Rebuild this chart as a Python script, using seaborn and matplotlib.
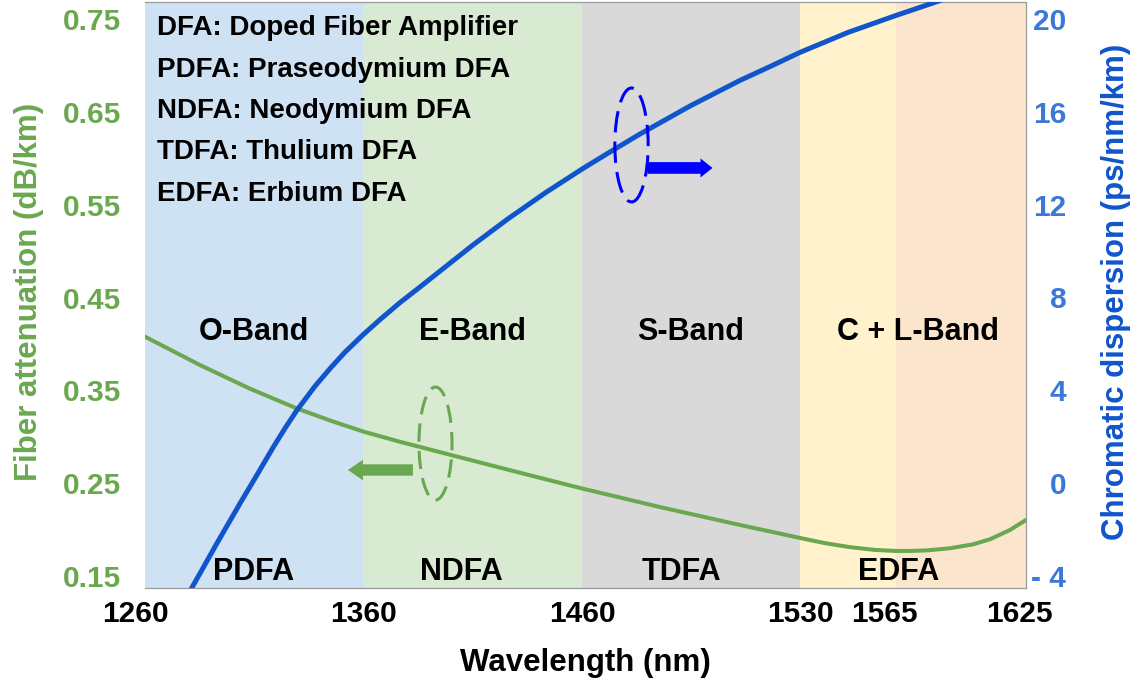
import numpy as np
import matplotlib
matplotlib.use("Agg")
import matplotlib.pyplot as plt
import seaborn as sns
from matplotlib.patches import Ellipse
from matplotlib.transforms import ScaledTranslation

# ---------------------------------------------------------------- data
tick_wavelengths = [1260, 1360, 1460, 1530, 1565, 1625]
tick_labels = ["1260", "1360", "1460", "1530", "1565", "1625"]

band_names = ["O-Band", "E-Band", "S-Band", "C + L-Band"]
band_label_wl = [1310, 1410, 1495, 1575]
amp_names = ["PDFA", "NDFA", "TDFA", "EDFA"]
amp_label_wl = [1310, 1405, 1492, 1566]

shade_starts = [1260, 1360, 1460, 1530, 1565]
shade_ends = [1360, 1460, 1530, 1565, 1625]

glossary = [
    "DFA: Doped Fiber Amplifier",
    "PDFA: Praseodymium DFA",
    "NDFA: Neodymium DFA",
    "TDFA: Thulium DFA",
    "EDFA: Erbium DFA",
]

# fiber attenuation (dB/km)
att_wl = [1260, 1285.2, 1308.2, 1329.7, 1344.9, 1360, 1376.9, 1395.2,
          1427.1, 1460, 1485.4, 1510.7, 1520.4, 1530, 1539.1, 1548.2,
          1557.3, 1565, 1571.5, 1579.3, 1589.9, 1600.5, 1608.4, 1617.6, 1625]
att_db = [0.4078, 0.3773, 0.3517, 0.3305, 0.3175, 0.3057, 0.2946, 0.2834,
          0.2640, 0.2443, 0.2240, 0.2050, 0.1980, 0.1910, 0.1854, 0.1811,
          0.1781, 0.1770, 0.1770, 0.1776, 0.1799, 0.1841, 0.1896, 0.1996, 0.2104]

# chromatic dispersion (ps/nm/km)
disp_wl = [1280, 1282.2, 1293.0, 1303.6, 1311.4, 1318.9, 1324.2, 1329.6,
           1338.0, 1344.9, 1351.7, 1360.1, 1367.8, 1376.9, 1386.0, 1395.2,
           1410.2, 1425.8, 1443.1, 1460.1, 1469.0, 1478.6, 1494.7, 1510.7,
           1520.4, 1530, 1547.5, 1565, 1585.3, 1594.5]
disp_ps = [-4.75, -4.39, -2.59, -0.87, 0.36, 1.56, 2.36, 3.13,
           4.18, 4.94, 5.64, 6.40, 7.05, 7.78, 8.45, 9.14,
           10.26, 11.36, 12.50, 13.54, 14.27, 15.04, 16.25, 17.35,
           17.95, 18.56, 19.42, 20.15, 20.79, 21.07]

left_ticks = [0.15, 0.25, 0.35, 0.45, 0.55, 0.65, 0.75]
right_ticks = [-4, 0, 4, 8, 12, 16, 20]
right_tick_labels = ["- 4", "0", "4", "8", "12", "16", "20"]

# ---------------------------------------------------------------- style
GREEN = "#6AA84F"
BLUE = "#1155CC"
BLUE_TICK = "#3C78D8"
PURE_BLUE = "#0000FF"
SHADES = ["#CFE2F3", "#D9EAD3", "#D9D9D9", "#FFF2CC", "#FCE5CD"]
SPINE = "#9A9A9A"

# each band gets its own stretch of the wavelength axis
AXIS_STRETCH = [0, 218, 437, 655, 751, 881]

sns.set_style("white")
plt.rcParams["font.family"] = ["Liberation Sans", "DejaVu Sans"]
plt.rcParams["font.weight"] = "bold"
plt.rcParams["text.color"] = "black"
plt.rcParams["axes.labelcolor"] = "black"

fig = plt.figure(figsize=(11.38, 6.86), dpi=100)
ax = fig.add_axes([145 / 1138, 98 / 686, 881 / 1138, 586 / 686])


def fwd(x):
    return np.interp(x, tick_wavelengths, AXIS_STRETCH)


def inv(p):
    return np.interp(p, AXIS_STRETCH, tick_wavelengths)


ax.set_xscale("function", functions=(fwd, inv))
ax.set_xlim(1260, 1625)
ax.set_ylim(0.1371, 0.7683)

for s, e, c in zip(shade_starts, shade_ends, SHADES):
    ax.axvspan(s, e, color=c, lw=0, zorder=0)

sns.lineplot(x=att_wl, y=att_db, ax=ax, color=GREEN, linewidth=2.9, zorder=3)

ax2 = ax.twinx()
ax2.set_ylim(-4.517, 20.73)
sns.lineplot(x=disp_wl, y=disp_ps, ax=ax2, color=BLUE, linewidth=3.6, zorder=3)
for ln in ax.lines + ax2.lines:
    ln.set_solid_joinstyle("round")

# ---------------------------------------------------------------- axes
ax.set_xticks(tick_wavelengths)
ax.set_xticklabels(tick_labels)
ax.set_yticks(left_ticks)
ax.set_yticklabels([f"{v:.2f}" for v in left_ticks])
ax2.set_yticks(right_ticks)
ax2.set_yticklabels(right_tick_labels)

ax.tick_params(axis="x", length=0, pad=9, labelsize=21.5, labelcolor="black")
ax.tick_params(axis="y", length=0, pad=17, labelsize=21.5, labelcolor=GREEN)
ax2.tick_params(axis="y", length=0, pad=29, labelsize=21.5, labelcolor=BLUE_TICK)
for lbl in ax2.get_yticklabels():
    lbl.set_horizontalalignment("right")

# small horizontal nudges of a few wavelength labels
nudges = {"1260": -10, "1565": -12, "1625": -7}
for tick, txt in zip(ax.xaxis.get_major_ticks(), tick_labels):
    if txt in nudges:
        off = ScaledTranslation(nudges[txt] / 100, 0, fig.dpi_scale_trans)
        tick.label1.set_transform(tick.label1.get_transform() + off)

ax.set_xlabel("Wavelength (nm)", fontsize=22.5, fontweight="bold", color="black")
ax.xaxis.set_label_coords(0.5, -0.102)
ax.set_ylabel("Fiber attenuation (dB/km)", fontsize=22.5,
              fontweight="bold", color=GREEN)
ax.yaxis.set_label_coords(-0.115, 0.505)
ax2.set_ylabel("Chromatic dispersion (ps/nm/km)", fontsize=22.5,
               fontweight="bold", color=BLUE)
ax2.yaxis.set_label_coords(1.085, 0.505)

for a in (ax, ax2):
    for side in ("left", "right", "top", "bottom"):
        a.spines[side].set_visible(False)
for side in ("right", "top", "bottom"):
    ax2.spines[side].set_visible(True)
    ax2.spines[side].set_color(SPINE)
    ax2.spines[side].set_linewidth(0.9)
ax.grid(False)
ax2.grid(False)

# ---------------------------------------------------------------- annotations
ax.add_patch(Ellipse((1393.1, 0.2927), width=15.1, height=0.1217, fill=False,
                     ec=GREEN, lw=2.2, ls=(0, (6, 3)), zorder=4))
ax.annotate("", xy=(1353.1, 0.2642), xytext=(1382.8, 0.2642),
            arrowprops=dict(arrowstyle="simple,head_width=1.49,head_length=1.08,tail_width=0.82",
                            fc=GREEN, ec="none", shrinkA=0, shrinkB=0,
                            mutation_scale=10), zorder=4)

ax2.add_patch(Ellipse((1475.9, 14.57), width=10.7, height=4.91, fill=False,
                      ec=PURE_BLUE, lw=2.2, ls=(0, (7, 3)), zorder=4))
ax2.annotate("", xy=(1501.9, 13.58), xytext=(1481.1, 13.58),
             arrowprops=dict(arrowstyle="simple,head_width=1.37,head_length=0.86,tail_width=0.84",
                             fc=PURE_BLUE, ec="none", shrinkA=0, shrinkB=0,
                             mutation_scale=10), zorder=4)

xt = ax2.get_xaxis_transform()
for name, wl in zip(band_names, band_label_wl):
    ax2.text(wl, 0.4374, name, transform=xt, ha="center", va="center",
             fontsize=22, fontweight="bold", color="black", zorder=5)
for name, wl in zip(amp_names, amp_label_wl):
    ax2.text(wl, 0.0273, name, transform=xt, ha="center", va="center",
             fontsize=22, fontweight="bold", color="black", zorder=5)

for i, line in enumerate(glossary):
    ax2.text(0.0136, 0.9556 - i * 0.0708, line, transform=ax2.transAxes,
             ha="left", va="center", fontsize=20, fontweight="bold",
             color="black", zorder=5)

fig.savefig("out.png", dpi=100)
